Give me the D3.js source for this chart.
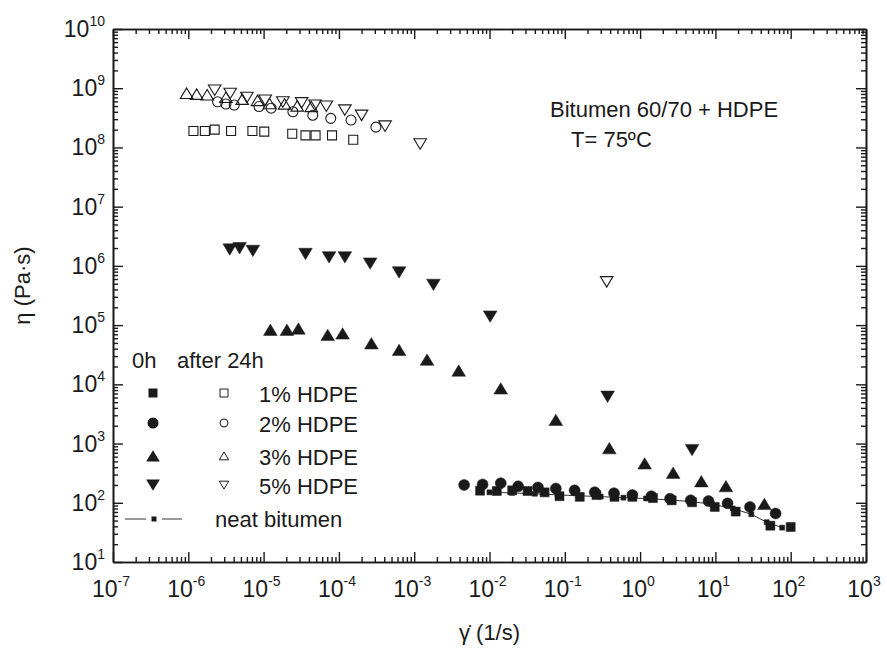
<!DOCTYPE html>
<html><head><meta charset="utf-8">
<script src="https://cdn.jsdelivr.net/npm/d3@7"></script>
<style>
body{margin:0;background:#fff;}
svg{display:block;font-family:"Liberation Sans",Arial,Helvetica,sans-serif;}
</style></head>
<body><svg id="chart" width="887" height="649"></svg>
<script>
// ---- data ----
const hdpe1_24h_x = [1.17e-6,1.66e-6,2.24e-6,3.7e-6,7.1e-6,1.02e-5,2.4e-5,3.6e-5,4.9e-5,8.1e-5,1.55e-4];
const hdpe1_24h_y = [1.9e8,1.9e8,2.0e8,1.9e8,1.9e8,1.85e8,1.7e8,1.6e8,1.6e8,1.6e8,1.35e8];
const hdpe2_24h_x = [2.45e-6,3.16e-6,4.07e-6,8.7e-6,1.26e-5,2.45e-5,4.5e-5,7.8e-5,1.45e-4,3.1e-4];
const hdpe2_24h_y = [5.9e8,5.4e8,5.2e8,4.9e8,4.6e8,4.0e8,3.5e8,3.1e8,2.9e8,2.2e8];
const hdpe3_24h_x = [9.5e-7,1.29e-6,1.78e-6,3.16e-6,5.2e-6,8.3e-6,1.2e-5,1.9e-5,2.8e-5,4.3e-5];
const hdpe3_24h_y = [8.2e8,7.9e8,7.7e8,7.0e8,6.5e8,6.2e8,5.5e8,5.4e8,5.0e8,4.9e8];
const hdpe5_24h_x = [2.24e-6,3.6e-6,6.0e-6,1.05e-5,1.8e-5,3.2e-5,4.8e-5,6.8e-5,1.2e-4,2.0e-4,4.1e-4,1.2e-3,0.36];
const hdpe5_24h_y = [9.3e8,8.2e8,7.0e8,6.3e8,5.9e8,5.7e8,5.2e8,5.0e8,4.3e8,3.5e8,2.3e8,1.15e8,5.4e5];

const hdpe5_0h_x = [3.55e-6,4.8e-6,7.2e-6,3.6e-5,7.4e-5,1.2e-4,2.6e-4,6.3e-4,1.8e-3,1.02e-2,0.37,4.9];
const hdpe5_0h_y = [1.9e6,2.0e6,1.8e6,1.6e6,1.4e6,1.4e6,1.1e6,7.8e5,4.8e5,1.4e5,6.2e3,7.8e2];
const hdpe3_0h_x = [1.23e-5,2.04e-5,2.9e-5,7.1e-5,1.12e-4,2.7e-4,6.3e-4,1.48e-3,3.9e-3,1.41e-2,7.6e-2,0.39,1.15,2.75,6.5,13.8,44.7];
const hdpe3_0h_y = [8.3e4,8.3e4,8.7e4,6.8e4,7.2e4,4.9e4,3.8e4,2.6e4,1.7e4,8.5e3,2.5e3,8.3e2,4.6e2,3.2e2,2.3e2,1.9e2,95];
const hdpe2_0h_x = [4.6e-3,8.1e-3,1.41e-2,2.4e-2,4.4e-2,7.6e-2,0.135,0.25,0.45,0.79,1.41,2.5,4.7,8.1,14.5,28.8,63];
const hdpe2_0h_y = [200,204,214,190,182,174,162,151,145,135,129,117,110,107,98,85,66];
const hdpe1_0h_x = [7.5e-3,1.25e-2,2.0e-2,3.2e-2,5.4e-2,8.5e-2,0.158,0.263,0.457,0.79,1.48,2.63,4.9,9.8,18.6,53.7,100];
const hdpe1_0h_y = [160,158,162,158,150,129,126,135,126,126,120,110,102,85,71,41,39];
const neat_x = [1e-2,2e-2,4e-2,8e-2,0.16,0.3,0.6,1.2,2.4,4.6,9,17,30,48,77];
const neat_y = [150,147,142,136,131,127,122,118,112,105,95,80,64,47,38];

const xTickExps = [-7,-6,-5,-4,-3,-2,-1,0,1,2,3];
const yTickExps = [1,2,3,4,5,6,7,8,9,10];
const legendLabels = ["1% HDPE","2% HDPE","3% HDPE","5% HDPE"];

// ---- layout ----
const L=113, R=866, T=29, B=562;
const svg = d3.select("#chart");
const x = d3.scaleLog().domain([1e-7,1e3]).range([L,R]);
const y = d3.scaleLog().domain([10,1e10]).range([B,T]);
const ink = "#1a1a1a";

const xMaj = xTickExps.map(e=>Math.pow(10,e));
const yMaj = yTickExps.map(e=>Math.pow(10,e));
const xMin = [], yMin = [];
xTickExps.slice(0,-1).forEach(e=>{for(let k=2;k<10;k++) xMin.push(k*Math.pow(10,e));});
yTickExps.slice(0,-1).forEach(e=>{for(let k=2;k<10;k++) yMin.push(k*Math.pow(10,e));});

function styleAxis(g){ g.selectAll("path,line").attr("stroke",ink).attr("stroke-width",1.4); g.selectAll("text").remove(); g.select(".domain").attr("stroke-width",1.6);}
svg.append("g").attr("transform",`translate(0,${B})`).call(d3.axisBottom(x).tickValues(xMaj).tickSize(-10).tickSizeOuter(0)).call(styleAxis);
svg.append("g").attr("transform",`translate(0,${B})`).call(d3.axisBottom(x).tickValues(xMin).tickSize(-5).tickSizeOuter(0)).call(styleAxis);
svg.append("g").attr("transform",`translate(0,${T})`).call(d3.axisTop(x).tickValues(xMaj).tickSize(-10).tickSizeOuter(0)).call(styleAxis);
svg.append("g").attr("transform",`translate(0,${T})`).call(d3.axisTop(x).tickValues(xMin).tickSize(-5).tickSizeOuter(0)).call(styleAxis);
svg.append("g").attr("transform",`translate(${L},0)`).call(d3.axisLeft(y).tickValues(yMaj).tickSize(-10).tickSizeOuter(0)).call(styleAxis);
svg.append("g").attr("transform",`translate(${L},0)`).call(d3.axisLeft(y).tickValues(yMin).tickSize(-5).tickSizeOuter(0)).call(styleAxis);
svg.append("g").attr("transform",`translate(${R},0)`).call(d3.axisRight(y).tickValues(yMaj).tickSize(-10).tickSizeOuter(0)).call(styleAxis);
svg.append("g").attr("transform",`translate(${R},0)`).call(d3.axisRight(y).tickValues(yMin).tickSize(-5).tickSizeOuter(0)).call(styleAxis);

// tick labels
xTickExps.forEach(e=>{
  const t = svg.append("text").attr("x",x(Math.pow(10,e))-2).attr("y",597).attr("text-anchor","middle")
    .attr("font-size",23).attr("fill",ink);
  t.append("tspan").text("10");
  t.append("tspan").attr("dy",-11).attr("font-size",14).text(String(e));
});
yTickExps.forEach(e=>{
  const t = svg.append("text").attr("x",105).attr("y",y(Math.pow(10,e))+8).attr("text-anchor","end")
    .attr("font-size",23).attr("fill",ink);
  t.append("tspan").text("10");
  t.append("tspan").attr("dy",-11).attr("font-size",14).text(String(e));
});

// axis titles
svg.append("text").attr("transform",`translate(30,${(T+B)/2-10}) rotate(-90)`).attr("text-anchor","middle")
  .attr("font-size",22).attr("fill",ink).text("η  (Pa·s)");
svg.append("text").attr("x",(L+R)/2).attr("y",640).attr("text-anchor","middle")
  .attr("font-size",22).attr("fill",ink).text("γ\u0307 (1/s)");

// markers
function shape(type,s){
  const h=s/2;
  if(type==="square") return `M${-h},${-h}H${h}V${h}H${-h}Z`;
  if(type==="up") return `M0,${-h*0.9}L${h*1.05},${h*0.85}L${-h*1.05},${h*0.85}Z`;
  if(type==="down") return `M0,${h*0.9}L${h*1.05},${-h*0.85}L${-h*1.05},${-h*0.85}Z`;
  return null;
}
function plot(xs,ys,type,filled,size){
  const data = xs.map((v,i)=>[v,ys[i]]);
  const g = svg.append("g");
  if(type==="circle"){
    g.selectAll("circle").data(data).join("circle").attr("cx",d=>x(d[0])).attr("cy",d=>y(d[1])).attr("r",size/2)
      .attr("fill",filled?ink:"none").attr("stroke",ink).attr("stroke-width",filled?0.5:1.1);
  } else {
    g.selectAll("path").data(data).join("path").attr("transform",d=>`translate(${x(d[0])},${y(d[1])})`).attr("d",shape(type,size))
      .attr("fill",filled?ink:"none").attr("stroke",ink).attr("stroke-width",filled?0.5:1.1);
  }
}
// neat bitumen line
const neat = neat_x.map((v,i)=>[v,neat_y[i]]);
svg.append("path").datum(neat).attr("d",d3.line().x(d=>x(d[0])).y(d=>y(d[1]))).attr("fill","none").attr("stroke","#333").attr("stroke-width",1);
plot(neat_x,neat_y,"square",true,5);

plot(hdpe1_24h_x,hdpe1_24h_y,"square",false,9);
plot(hdpe2_24h_x,hdpe2_24h_y,"circle",false,10);
plot(hdpe3_24h_x,hdpe3_24h_y,"up",false,12);
plot(hdpe5_24h_x,hdpe5_24h_y,"down",false,12);
plot(hdpe1_0h_x,hdpe1_0h_y,"square",true,9);
plot(hdpe2_0h_x,hdpe2_0h_y,"circle",true,11);
plot(hdpe3_0h_x,hdpe3_0h_y,"up",true,13);
plot(hdpe5_0h_x,hdpe5_0h_y,"down",true,13);

// annotation
svg.append("text").attr("x",550).attr("y",117).attr("font-size",22).attr("fill",ink).text("Bitumen 60/70 + HDPE");
svg.append("text").attr("x",571).attr("y",147).attr("font-size",22).attr("fill",ink).text("T= 75ºC");

// legend
const lg = svg.append("g");
lg.append("text").attr("x",132).attr("y",368).attr("font-size",22).attr("fill",ink).text("0h");
lg.append("text").attr("x",177).attr("y",368).attr("font-size",22).attr("fill",ink).text("after 24h");
const rowY = [393,423,456,485];
const types = ["square","circle","up","down"];
legendLabels.forEach((lab,i)=>{
  const yy=rowY[i], t=types[i];
  if(t==="circle"){
    lg.append("circle").attr("cx",153).attr("cy",yy).attr("r",5.5).attr("fill",ink);
    lg.append("circle").attr("cx",224).attr("cy",yy).attr("r",4).attr("fill","none").attr("stroke",ink).attr("stroke-width",1);
  } else {
    lg.append("path").attr("transform",`translate(153,${yy})`).attr("d",shape(t,t==="square"?9:13)).attr("fill",ink);
    lg.append("path").attr("transform",`translate(224,${yy})`).attr("d",shape(t,t==="square"?8:9)).attr("fill","none").attr("stroke",ink).attr("stroke-width",1);
  }
  lg.append("text").attr("x",259).attr("y",yy+9).attr("font-size",22).attr("fill",ink).text(lab);
});
lg.append("line").attr("x1",125).attr("x2",146).attr("y1",519).attr("y2",519).attr("stroke","#333").attr("stroke-width",1);
lg.append("line").attr("x1",162).attr("x2",182).attr("y1",519).attr("y2",519).attr("stroke","#333").attr("stroke-width",1);
lg.append("path").attr("transform","translate(154,519)").attr("d",shape("square",5)).attr("fill",ink);
lg.append("text").attr("x",215).attr("y",527).attr("font-size",22).attr("fill",ink).text("neat bitumen");
</script></body></html>
